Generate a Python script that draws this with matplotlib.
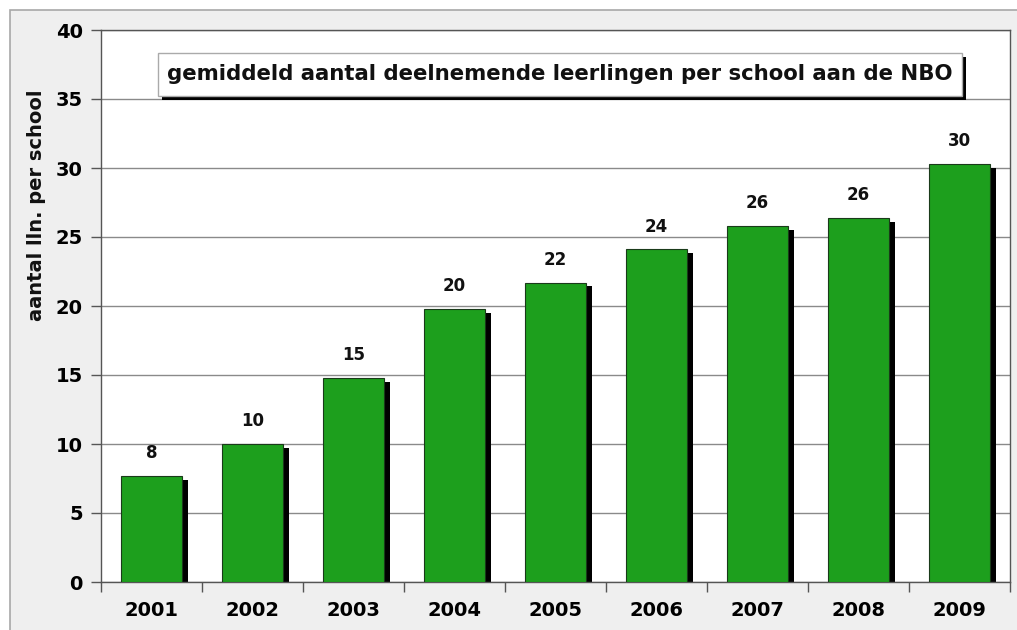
import matplotlib
matplotlib.use("Agg")
import matplotlib.pyplot as plt
from matplotlib.patches import Rectangle
import numpy as np

years = ["2001", "2002", "2003", "2004", "2005", "2006", "2007", "2008", "2009"]
values = [7.7, 10.0, 14.8, 19.8, 21.7, 24.1, 25.8, 26.4, 30.3]
labels = ["8", "10", "15", "20", "22", "24", "26", "26", "30"]
title = "gemiddeld aantal deelnemende leerlingen per school aan de NBO"
ylabel = "aantal lln. per school"

plt.rcParams['font.family'] = ['DejaVu Sans']
plt.rcParams['font.weight'] = 'bold'

W, H = 1017, 630
fig = plt.figure(figsize=(W / 100, H / 100), dpi=100)
fig.patch.set_facecolor("white")
# outer frame
fig.patches.append(Rectangle((10 / W, -0.1), 1.2, 1.1 - 10 / H, transform=fig.transFigure,
                             facecolor="#efefef", edgecolor="#a8a8a8", linewidth=1.2, zorder=-10))

ax = fig.add_axes([101 / W, 1 - 582 / H, 909 / W, 552 / H])
ax.set_facecolor("white")
x = np.arange(len(years))
bw = 0.6
# shadows
ax.bar(x + 0.06, [v - 0.28 for v in values], width=bw, color="black", zorder=2)
ax.bar(x, values, width=bw, color="#1d9f1d", edgecolor="#1a3a1a", linewidth=0.8, zorder=3)
for xi, v, lab in zip(x, values, labels):
    ax.text(xi, v + 1.0, lab, ha="center", va="bottom", fontsize=12, fontweight="bold", color="#111111")

ax.set_xlim(-0.5, len(years) - 0.5)
ax.set_ylim(0, 40)
ax.set_yticks(np.arange(0, 41, 5))
ax.yaxis.grid(True, color="#8a8a8a", linewidth=1)
ax.set_axisbelow(True)
ax.set_xticks(x)
ax.set_xticklabels(years, fontsize=14, fontweight="bold")
ax.set_xticks(np.arange(-0.5, len(years), 1), minor=True)
ax.tick_params(axis="x", which="major", length=0, pad=14)
ax.tick_params(axis="x", which="minor", length=7, color="#555555", width=1)
ax.tick_params(axis="y", length=7, color="#555555", width=1, labelsize=14, pad=6)
for lab in ax.get_yticklabels():
    lab.set_fontweight("bold")
for s in ax.spines.values():
    s.set_color("#555555")
    s.set_linewidth(1)

fig.text(37 / W, 1 - 205 / H, ylabel, rotation=90, ha="center", va="center",
         fontsize=14, fontweight="bold", color="#111111")

# title box with shadow
bx0, by0, bx1, by1 = 158, 53, 962, 96
fig.patches.append(Rectangle(((bx0 + 4) / W, 1 - (by1 + 4) / H), (bx1 - bx0) / W, (by1 - by0) / H,
                             transform=fig.transFigure, facecolor="black", edgecolor="none", zorder=5))
fig.patches.append(Rectangle((bx0 / W, 1 - by1 / H), (bx1 - bx0) / W, (by1 - by0) / H,
                             transform=fig.transFigure, facecolor="white", edgecolor="#aaaaaa",
                             linewidth=1, zorder=6))
fig.text((bx0 + bx1) / 2 / W, 1 - (by0 + by1) / 2 / H, title, ha="center", va="center",
         fontsize=15.3, fontweight="bold", color="#111111", zorder=7)

fig.savefig("out.png", dpi=100)
